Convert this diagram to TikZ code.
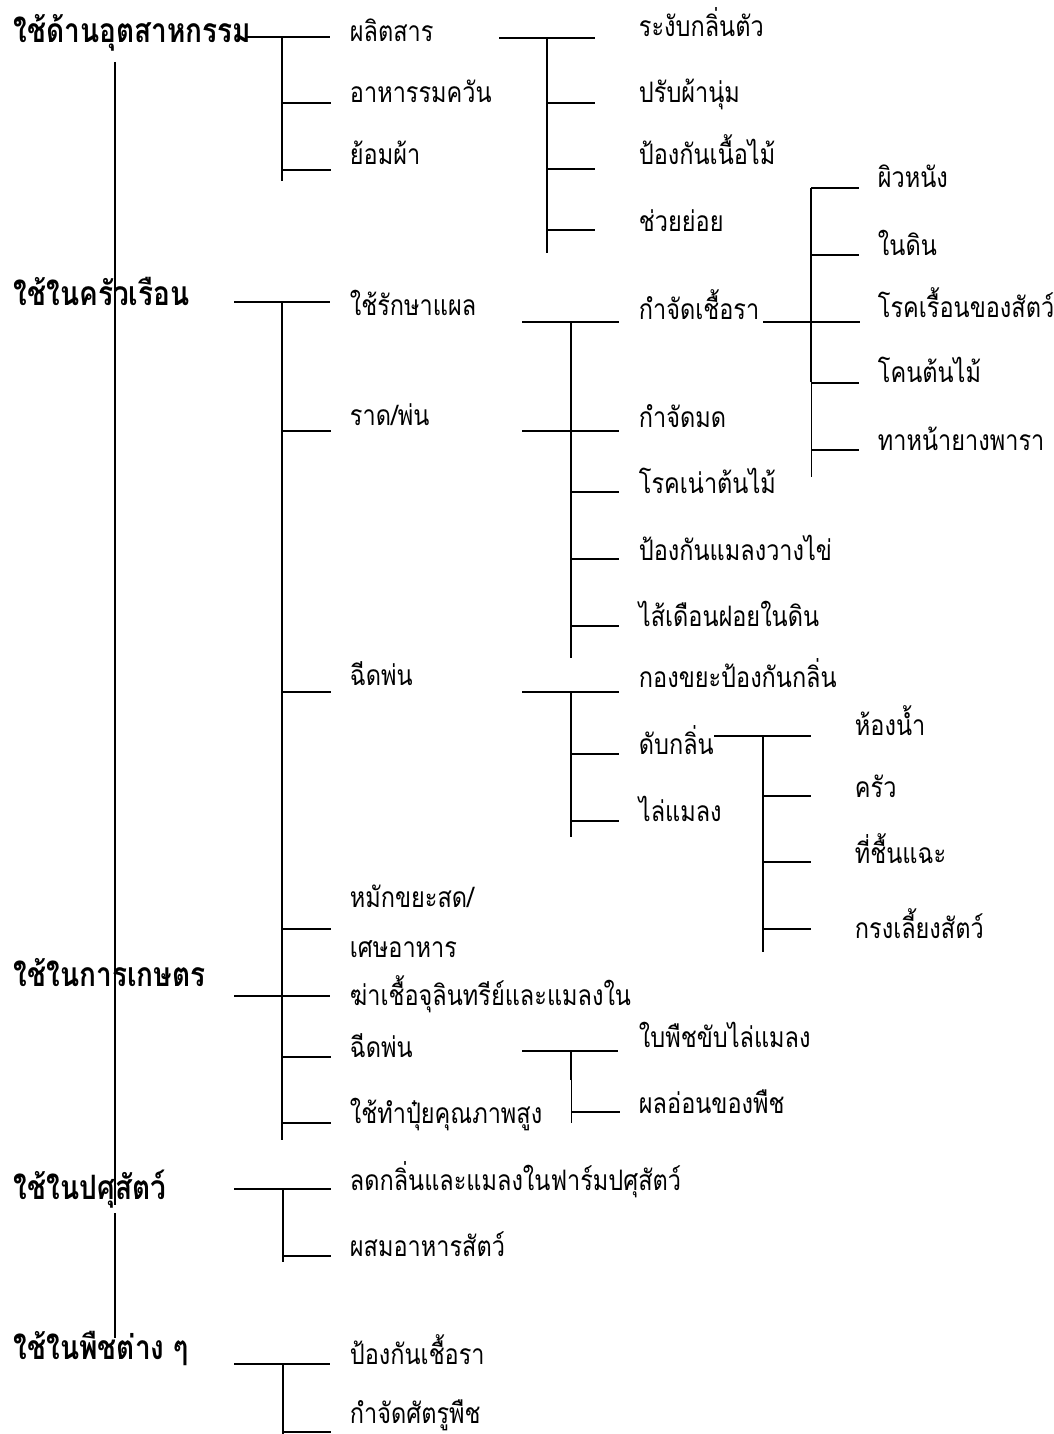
\documentclass[tikz,border=0pt]{standalone}
\usepackage{fontspec}
\newfontfamily\thaifont[Script=Thai]{Loma}
\begin{document}
\begin{tikzpicture}[x=1pt,y=-1pt,line width=1.9pt,
  txt/.style={anchor=base west,inner sep=0pt,transform shape,yscale=1.2,font=\thaifont\fontsize{23.5}{27}\selectfont},
  head/.style={anchor=base west,inner sep=0pt,transform shape,yscale=1.2,font=\thaifont\bfseries\fontsize{28}{32}\selectfont},
  thinline/.style={line width=1pt}]
\useasboundingbox (0,0) rectangle (1053,1434);
% headers
\node[head] (h1) at (13,43) {ใช้ด้านอุตสาหกรรม};
\node[head] (h2) at (13,305) {ใช้ในครัวเรือน};
\node[head] (h3) at (13,986) {ใช้ในการเกษตร};
\node[head] (h4) at (13,1199) {ใช้ในปศุสัตว์};
\node[head] (h5) at (13,1359) {ใช้ในพืชต่าง ๆ};
% level 1
\node[txt] (a1) at (349,42) {ผลิตสาร};
\node[txt] (a2) at (349,103) {อาหารรมควัน};
\node[txt] (a3) at (349,165) {ย้อมผ้า};
\node[txt] (b1) at (349,315) {ใช้รักษาแผล};
\node[txt] (b2) at (349,425) {ราด/พ่น};
\node[txt] (b3) at (349,685) {ฉีดพ่น};
\node[txt] (b4) at (349,907) {หมักขยะสด/};
\node[txt] (b4b) at (349,957) {เศษอาหาร};
\node[txt] (c1) at (349,1005) {ฆ่าเชื้อจุลินทรีย์และแมลงใน};
\node[txt] (c2) at (349,1057) {ฉีดพ่น};
\node[txt] (c3) at (349,1123) {ใช้ทำปุ๋ยคุณภาพสูง};
\node[txt] (d1) at (349,1190) {ลดกลิ่นและแมลงในฟาร์มปศุสัตว์};
\node[txt] (d2) at (349,1256) {ผสมอาหารสัตว์};
\node[txt] (e1) at (349,1364) {ป้องกันเชื้อรา};
\node[txt] (e2) at (349,1423) {กำจัดศัตรูพืช};
% level 2
\node[txt] (a11) at (638,37) {ระงับกลิ่นตัว};
\node[txt] (a12) at (638,103) {ปรับผ้านุ่ม};
\node[txt] (a13) at (638,165) {ป้องกันเนื้อไม้};
\node[txt] (a14) at (638,231) {ช่วยย่อย};
\node[txt] (b11) at (638,319) {กำจัดเชื้อรา};
\node[txt] (b21) at (638,427) {กำจัดมด};
\node[txt] (b22) at (638,493) {โรคเน่าต้นไม้};
\node[txt] (b23) at (638,560) {ป้องกันแมลงวางไข่};
\node[txt] (b24) at (638,626) {ไส้เดือนฝอยในดิน};
\node[txt] (b31) at (638,687) {กองขยะป้องกันกลิ่น};
\node[txt] (b32) at (638,754) {ดับกลิ่น};
\node[txt] (b33) at (638,821) {ไล่แมลง};
\node[txt] (c21) at (638,1047) {ใบพืชขับไล่แมลง};
\node[txt] (c22) at (638,1113) {ผลอ่อนของพืช};
% level 3
\node[txt] (b111) at (877,188) {ผิวหนัง};
\node[txt] (b112) at (877,255) {ในดิน};
\node[txt] (b113) at (877,317) {โรคเรื้อนของสัตว์};
\node[txt] (b114) at (877,382) {โคนต้นไม้};
\node[txt] (b115) at (877,450) {ทาหน้ายางพารา};
\node[txt] (b321) at (854,735) {ห้องน้ำ};
\node[txt] (b322) at (854,797) {ครัว};
\node[txt] (b323) at (854,863) {ที่ชื้นแฉะ};
\node[txt] (b324) at (854,938) {กรงเลี้ยงสัตว์};
% main spine
\draw (115,62) -- (115,1205);
\draw (115,1213) -- (115,1338);
% industry
\draw (246,37) -- (330,37);
\draw (282,37) -- (282,181);
\foreach \yy in {103,170} \draw (282,\yy) -- (331,\yy);
\draw (499,38) -- (595,38);
\draw (547,38) -- (547,253);
\foreach \yy in {103,169,230} \draw (547,\yy) -- (595,\yy);
% household
\draw (234,302) -- (330,302);
\draw (282,302) -- (282,1140);
\foreach \yy in {431,692,929,1057,1123} \draw (282,\yy) -- (331,\yy);
\draw (234,996) -- (330,996);
\draw (522,322) -- (619,322);
\draw (571,322) -- (571,658);
\draw (522,431) -- (619,431);
\foreach \yy in {492,559,626} \draw (571,\yy) -- (619,\yy);
\draw (763,322) -- (860,322);
\draw (811,188) -- (811,382);
\draw[thinline] (811,382) -- (811,477);
\foreach \yy in {188,255,383,450} \draw (811,\yy) -- (859,\yy);
\draw (522,692) -- (619,692);
\draw (571,692) -- (571,837);
\foreach \yy in {754,821} \draw (571,\yy) -- (619,\yy);
\draw (714,736) -- (811,736);
\draw (763,736) -- (763,952);
\foreach \yy in {796,862,929} \draw (763,\yy) -- (811,\yy);
% agriculture spray
\draw (522,1051) -- (618,1051);
\draw (571,1051) -- (571,1080);
\draw[thinline] (571,1080) -- (571,1123);
\draw (572,1112) -- (620,1112);
% livestock
\draw (234,1189) -- (331,1189);
\draw (283,1189) -- (283,1262);
\draw (283,1256) -- (331,1256);
% plants
\draw (234,1364) -- (330,1364);
\draw (283,1364) -- (283,1434);
\draw (283,1432) -- (331,1432);
\end{tikzpicture}
\end{document}
